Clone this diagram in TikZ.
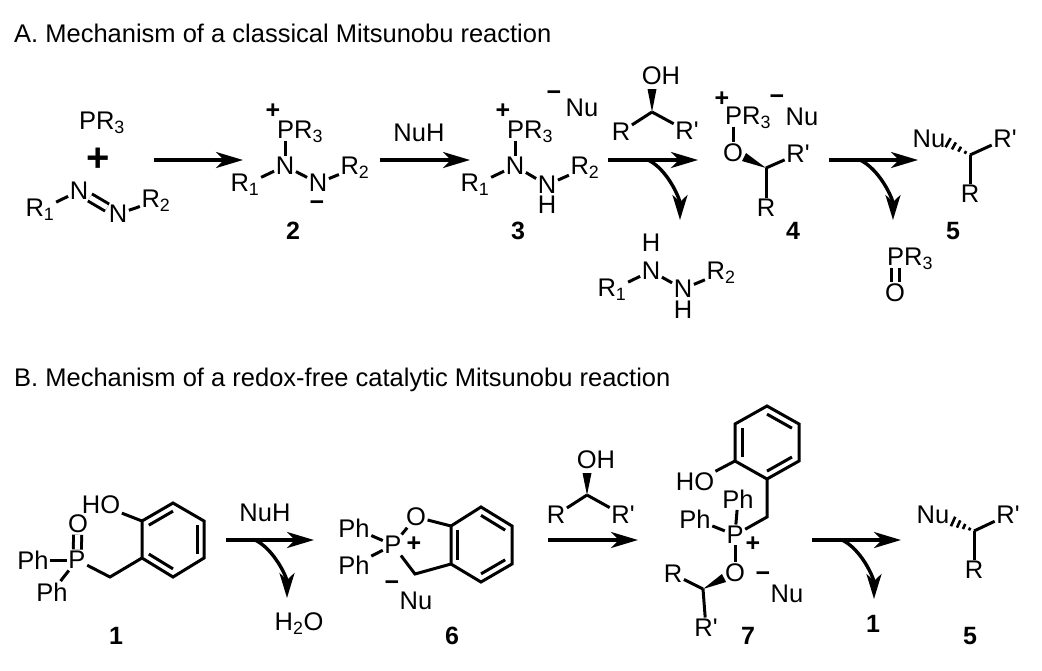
\documentclass[tikz,border=0pt]{standalone}
\usepackage{fontspec}
\setmainfont{Liberation Sans}
\usetikzlibrary{arrows.meta,calc}

\newcommand{\Rp}{R\textquotesingle}
\newcommand{\wedgebond}[2]{\fill ($(#2)!4.5pt!90:(#1)$) -- (#1) -- ($(#2)!4.5pt!-90:(#1)$) -- cycle;}
\newcommand{\hashbond}[2]{\foreach \f/\w in {.2/1.5,.45/2.8,.7/4,.95/5.2}{\draw[line width=2.6pt] ($(#1)!\f!(#2)!\w pt!90:(#2)$) -- ($(#1)!\f!(#2)!\w pt!-90:(#2)$);}}
\newcommand{\innerbond}[3]{\draw[bond] ($(#1)!.22!(#3)$) -- ($(#2)!.22!(#3)$);}

\begin{document}
\begin{tikzpicture}[
x=1pt, y=-1pt,
atom/.style={inner sep=1.5pt, font=\fontsize{25.5}{28}\selectfont},
numlabel/.style={inner sep=1pt, font=\fontsize{25}{28}\selectfont\bfseries},
charge/.style={inner sep=0pt, font=\fontsize{25}{28}\selectfont\bfseries},
negcharge/.style={charge, yshift=-4pt},
heading/.style={anchor=west, inner sep=0pt, font=\fontsize{25.5}{28}\selectfont},
bond/.style={line width=3pt, line join=miter},
dblbond/.style={line width=3pt, double, double distance=5pt},
rxnarrow/.style={line width=3.4pt, -{Stealth[length=27pt,width=16pt,inset=8pt]}},
sidearrow/.style={line width=3.4pt, -{Stealth[length=25pt,width=15pt,inset=7pt]}},
]
\useasboundingbox (0,0) rectangle (1042,670);

%Headings
\node[heading] (headA) at (14,33) {A. Mechanism of a classical Mitsunobu reaction};
\node[heading] (headB) at (14,380) {B. Mechanism of a redox-free catalytic Mitsunobu reaction};

%Nodes A: starting materials
\node[atom] (pr0) at (102,123) {PR\textsubscript{3}};
\node[charge, font=\fontsize{40}{40}\selectfont\bfseries] (plus0) at (98,160) {+};
\node[atom] (na1) at (79,191) {N};
\node[atom] (na2) at (118,214) {N};
\node[atom] (ra1) at (40,210) {R\textsubscript{1}};
\node[atom] (ra2) at (156,201) {R\textsubscript{2}};

%Nodes A: 2
\node[atom] (pr2) at (300,132) {PR\textsubscript{3}};
\node[charge] (plus2) at (273,111) {+};
\node[atom] (nb1) at (285,166) {N};
\node[atom] (nb2) at (318,183) {N};
\node[atom] (rb1) at (245,185) {R\textsubscript{1}};
\node[atom] (rb2) at (355,168) {R\textsubscript{2}};
\node[negcharge] (minus2) at (317,202) {−};
\node[numlabel] (lab2) at (293,231) {2};
\node[atom] (nuh1) at (419,133) {NuH};

%Nodes A: 3
\node[atom] (pr3) at (530,132) {PR\textsubscript{3}};
\node[charge] (plus3) at (503,111) {+};
\node[atom] (nc1) at (515,166) {N};
\node[atom] (nc2) at (547,185) {N};
\node[atom] (hc2) at (547,205) {H};
\node[atom] (rc1) at (475,185) {R\textsubscript{1}};
\node[atom] (rc2) at (585,168) {R\textsubscript{2}};
\node[negcharge] (minus3) at (554,92) {−};
\node[atom] (nu3) at (582,108) {Nu};
\node[numlabel] (lab3) at (518,231) {3};

%Nodes A: alcohol
\node[atom] (oh1) at (661,76) {OH};
\node[atom] (rd) at (621,132) {R};
\node[atom] (rdp) at (687,131) {\Rp};
\coordinate (vd) at (652,112);
\coordinate (wd) at (652,89);

%Nodes A: hydrazine
\node[atom] (he1) at (651,243) {H};
\node[atom] (ne1) at (651,271) {N};
\node[atom] (ne2) at (683,289) {N};
\node[atom] (he2) at (683,310) {H};
\node[atom] (re1) at (612,290) {R\textsubscript{1}};
\node[atom] (re2) at (721,273) {R\textsubscript{2}};

%Nodes A: 4
\node[atom] (pr4) at (748,118) {PR\textsubscript{3}};
\node[charge] (plus4) at (722,99) {+};
\node[negcharge] (minus4) at (777,96) {−};
\node[atom] (nu4) at (802,117) {Nu};
\node[atom] (o4) at (733,153) {O};
\node[atom] (rf) at (766,208) {R};
\node[atom] (rfp) at (798,154) {\Rp};
\coordinate (vf) at (766,168);
\coordinate (wf) at (744,157);
\node[numlabel] (lab4) at (793,231) {4};

%Nodes A: 5 and phosphine oxide
\node[atom] (nu5) at (929,139) {Nu};
\node[atom] (rg) at (970,194) {R};
\node[atom] (rgp) at (1005,139) {\Rp};
\coordinate (vg) at (970,155);
\coordinate (wg) at (947,142);
\node[numlabel] (lab5) at (953,231) {5};
\node[atom] (pr5) at (910,259) {PR\textsubscript{3}};
\node[atom] (o5) at (895,293) {O};

%Nodes B: 1
\node[atom] (ho1) at (101,505) {HO};
\node[atom] (o1) at (78,524) {O};
\node[atom] (p1) at (77,560) {P};
\node[atom] (ph1a) at (33,560) {Ph};
\node[atom] (ph1b) at (52,592) {Ph};
\coordinate (ch1) at (110,577);
\coordinate (a1) at (142,558);
\coordinate (a2) at (142,521);
\coordinate (a3) at (173,503);
\coordinate (a4) at (204,521);
\coordinate (a5) at (204,558);
\coordinate (a6) at (173,577);
\coordinate (ac) at (173,540);
\node[numlabel] (lab1) at (116,636) {1};
\node[atom] (nuh2) at (265,513) {NuH};
\node[atom] (h2o) at (299,624) {H\textsubscript{2}O};

%Nodes B: 6
\node[atom] (ph6a) at (354,528) {Ph};
\node[atom] (ph6b) at (354,565) {Ph};
\node[atom] (p6) at (393,545) {P};
\node[atom] (o6) at (416,517) {O};
\node[charge] (plus6) at (414,544) {+};
\coordinate (ch6) at (415,574);
\coordinate (b1) at (451,564);
\coordinate (b2) at (451,526);
\coordinate (b3) at (481,507);
\coordinate (b4) at (512,526);
\coordinate (b5) at (512,564);
\coordinate (b6) at (481,582);
\coordinate (bc) at (481,545);
\node[negcharge] (minus6) at (392,582) {−};
\node[atom] (nu6) at (416,601) {Nu};
\node[numlabel] (lab6) at (452,636) {6};

%Nodes B: alcohol
\node[atom] (oh2) at (596,460) {OH};
\node[atom] (rh) at (556,515) {R};
\node[atom] (rhp) at (623,515) {\Rp};
\coordinate (vh) at (587,495);
\coordinate (wh) at (587,473);

%Nodes B: 7
\coordinate (c1) at (767,479);
\coordinate (c2) at (735,461);
\coordinate (c3) at (735,424);
\coordinate (c4) at (767,406);
\coordinate (c5) at (799,424);
\coordinate (c6) at (799,461);
\coordinate (cc) at (767,443);
\coordinate (ch7) at (767,517);
\node[atom] (ho7) at (695,482) {HO};
\node[atom] (p7) at (735,535) {P};
\node[atom] (ph7a) at (738,499) {Ph};
\node[atom] (ph7b) at (695,519) {Ph};
\node[charge] (plus7) at (753,544) {+};
\node[atom] (o7) at (735,573) {O};
\node[atom] (ri) at (673,574) {R};
\node[atom] (rip) at (706,628) {\Rp};
\coordinate (vi) at (703,589);
\coordinate (wi) at (724,578);
\node[negcharge] (minus7) at (763,573) {−};
\node[atom] (nu7) at (787,594) {Nu};
\node[numlabel] (lab7) at (748,636) {7};

%Nodes B: 5
\node[numlabel] (lab1b) at (873,624) {1};
\node[atom] (nu8) at (933,515) {Nu};
\node[atom] (rj) at (974,570) {R};
\node[atom] (rjp) at (1008,515) {\Rp};
\coordinate (vj) at (974,531);
\coordinate (wj) at (952,521);
\node[numlabel] (lab5b) at (970,636) {5};

%Arrow ends
\coordinate (s1) at (154,160);  \coordinate (e1) at (243,160);
\coordinate (s2) at (380,160);  \coordinate (e2) at (470,160);
\coordinate (s3) at (608,160);  \coordinate (e3) at (698,160);
\coordinate (s4) at (829,160);  \coordinate (e4) at (918,160);
\coordinate (s5) at (226,540);  \coordinate (e5) at (314,540);
\coordinate (s6) at (548,540);  \coordinate (e6) at (638,540);
\coordinate (s7) at (812,540);  \coordinate (e7) at (901,540);
\coordinate (t3) at (648,160);  \coordinate (f3) at (680,220);
\coordinate (t4) at (860,160);  \coordinate (f4) at (893,220);
\coordinate (t5) at (255,540);  \coordinate (f5) at (287,598);
\coordinate (t7) at (842,540);  \coordinate (f7) at (874,599);

%Lines A
\draw[bond] (ra1) -- (na1);
\draw[dblbond] (na1) -- (na2);
\draw[bond] (na2) -- (ra2);
\draw[bond] ($(nb1 |- pr2.base)+(0,2)$) -- (nb1);
\draw[bond] (rb1) -- (nb1);
\draw[bond] (nb1) -- (nb2);
\draw[bond] (nb2) -- (rb2);
\draw[bond] ($(nc1 |- pr3.base)+(0,2)$) -- (nc1);
\draw[bond] (rc1) -- (nc1);
\draw[bond] (nc1) -- (nc2);
\draw[bond] (nc2) -- (rc2);
\draw[bond] (rd) -- (vd);
\draw[bond] (vd) -- (rdp);
\wedgebond{vd}{wd}
\draw[bond] (re1) -- (ne1);
\draw[bond] (ne1) -- (ne2);
\draw[bond] (ne2) -- (re2);
\draw[bond] ($(o4 |- pr4.base)+(0,2)$) -- (o4);
\wedgebond{vf}{wf}
\draw[bond] (vf) -- (rfp);
\draw[bond] (vf) -- (rf);
\hashbond{vg}{wg}
\draw[bond] (vg) -- (rgp);
\draw[bond] (vg) -- (rg);
\draw[dblbond] ($(o5 |- pr5.base)+(0,2)$) -- (o5);

%Lines B
\draw[dblbond] (p1) -- (o1);
\draw[bond] (ph1a) -- (p1);
\draw[bond] (ph1b) -- (p1);
\draw[bond] (p1) -- (ch1) -- (a1);
\draw[bond] (ho1) -- (a2);
\draw[bond] (a1) -- (a2) -- (a3) -- (a4) -- (a5) -- (a6) -- cycle;
\innerbond{a2}{a3}{ac}
\innerbond{a4}{a5}{ac}
\innerbond{a6}{a1}{ac}
\draw[bond] (ph6a) -- (p6);
\draw[bond] (ph6b) -- (p6);
\draw[bond] (p6) -- (o6);
\draw[bond] (o6) -- (b2);
\draw[bond] (p6) -- (ch6) -- (b1);
\draw[bond] (b1) -- (b2) -- (b3) -- (b4) -- (b5) -- (b6) -- cycle;
\innerbond{b1}{b2}{bc}
\innerbond{b3}{b4}{bc}
\innerbond{b5}{b6}{bc}
\draw[bond] (rh) -- (vh);
\draw[bond] (vh) -- (rhp);
\wedgebond{vh}{wh}
\draw[bond] (c1) -- (c2) -- (c3) -- (c4) -- (c5) -- (c6) -- cycle;
\innerbond{c2}{c3}{cc}
\innerbond{c4}{c5}{cc}
\innerbond{c6}{c1}{cc}
\draw[bond] (ho7) -- (c2);
\draw[bond] (p7) -- (ch7) -- (c1);
\draw[bond] (ph7a) -- (p7);
\draw[bond] (ph7b) -- (p7);
\draw[bond] (p7) -- (o7);
\wedgebond{vi}{wi}
\draw[bond] (ri) -- (vi);
\draw[bond] (vi) -- (rip);
\hashbond{vj}{wj}
\draw[bond] (vj) -- (rjp);
\draw[bond] (vj) -- (rj);

%Arrows
\draw[rxnarrow] (s1) -- (e1);
\draw[rxnarrow] (s2) -- (e2);
\draw[rxnarrow] (s3) -- (e3);
\draw[rxnarrow] (s4) -- (e4);
\draw[rxnarrow] (s5) -- (e5);
\draw[rxnarrow] (s6) -- (e6);
\draw[rxnarrow] (s7) -- (e7);
\draw[sidearrow] (t3) to[out=-25,in=90,looseness=.8] (f3);
\draw[sidearrow] (t4) to[out=-25,in=90,looseness=.8] (f4);
\draw[sidearrow] (t5) to[out=-25,in=90,looseness=.8] (f5);
\draw[sidearrow] (t7) to[out=-25,in=90,looseness=.8] (f7);

\end{tikzpicture}
\end{document}
